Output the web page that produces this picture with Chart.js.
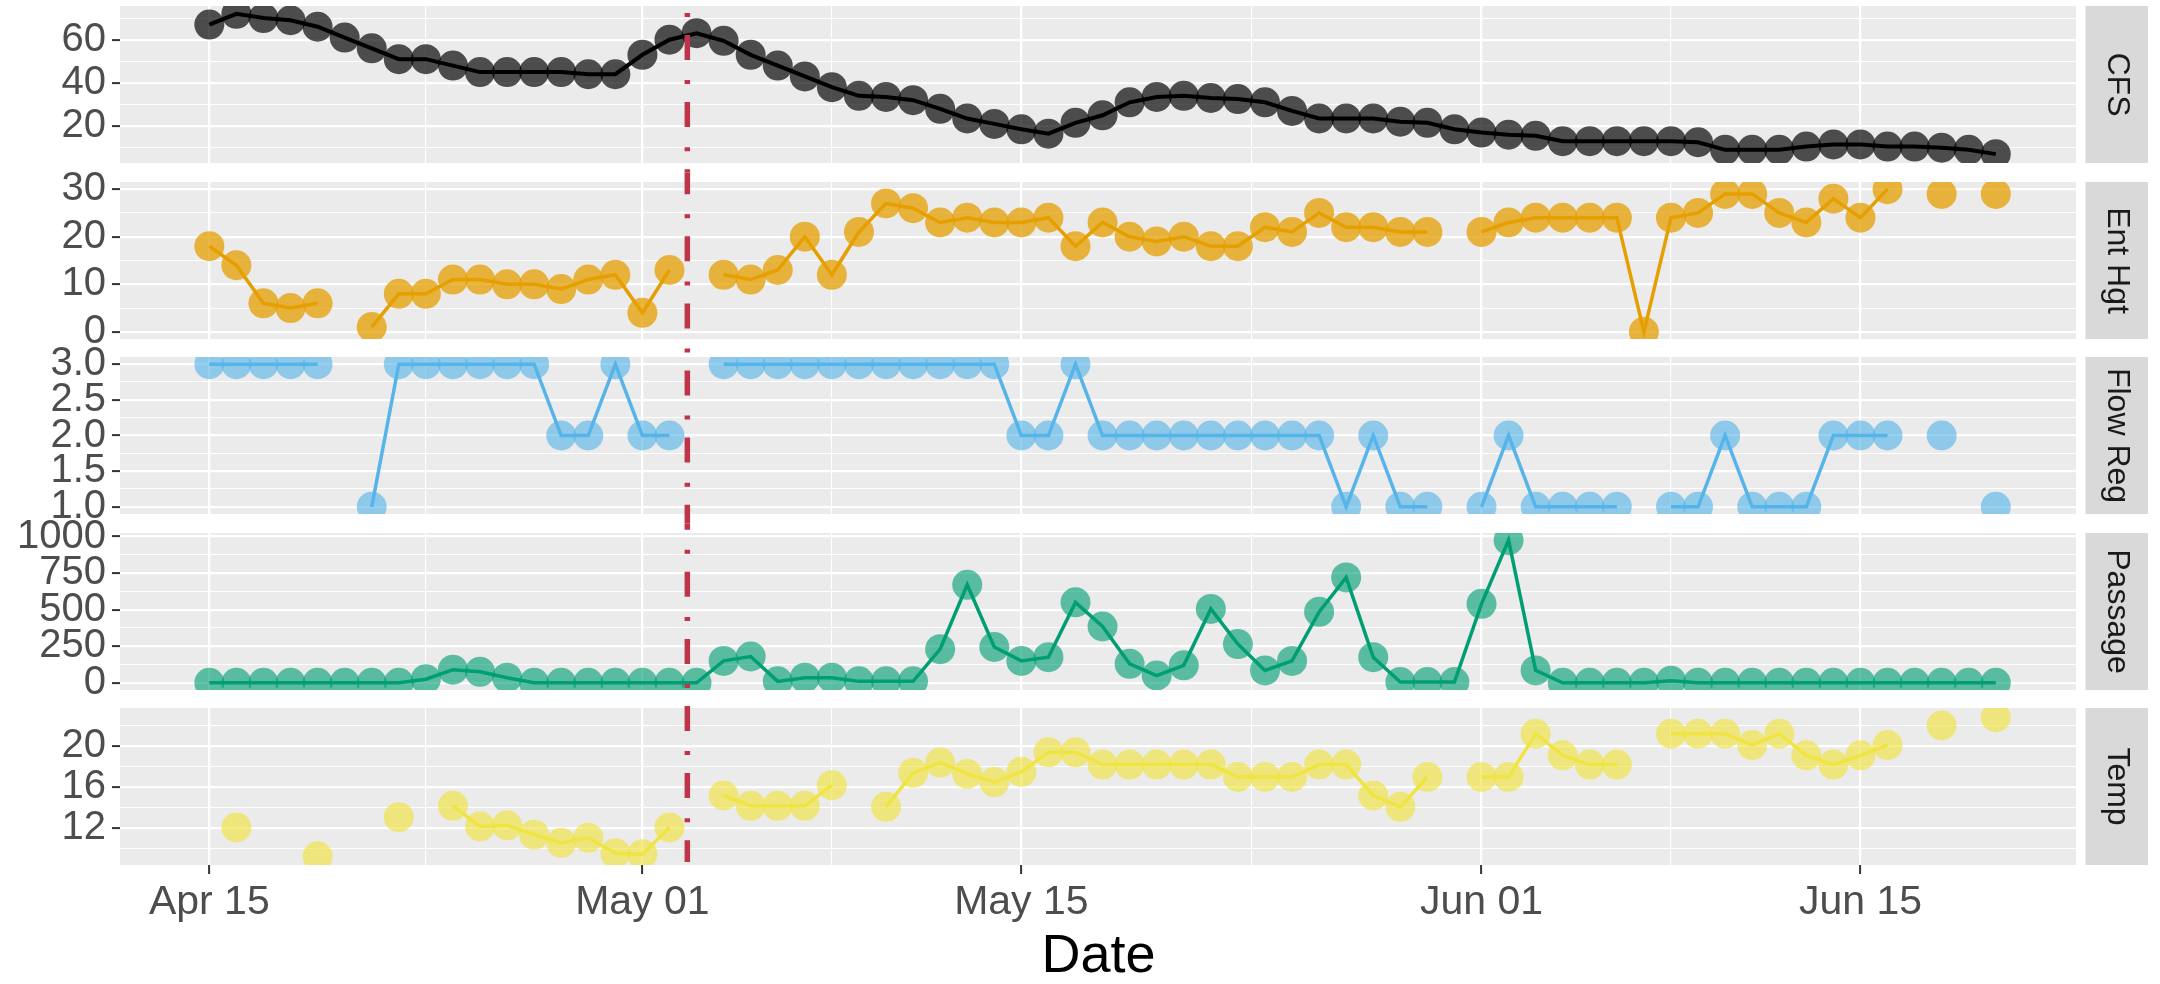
<!DOCTYPE html>
<html lang="en">
<head>
<meta charset="utf-8">
<title>Flow, entrance height, regulation, passage and temperature</title>
<script src="https://cdn.jsdelivr.net/npm/chart.js@4.4.1/dist/chart.umd.min.js"></script>
<style>
  html, body { margin: 0; padding: 0; background: #ffffff; }
  #wrap { position: relative; width: 2160px; height: 984px; overflow: hidden; background: #ffffff; }
  #wrap canvas { position: absolute; left: 0; }
</style>
</head>
<body>
<div id="wrap"></div>
<script>
// ---- Daily record, day 0 = Apr 15, last day = Jun 20 -------------------
const dayIndex = [
   0,  1,  2,  3,  4,  5,  6,  7,  8,  9, 10, 11, 12, 13, 14, 15, 16, 17, 18, 19,
  20, 21, 22, 23, 24, 25, 26, 27, 28, 29, 30, 31, 32, 33, 34, 35, 36, 37, 38, 39,
  40, 41, 42, 43, 44, 45, 46, 47, 48, 49, 50, 51, 52, 53, 54, 55, 56, 57, 58, 59,
  60, 61, 62, 63, 64, 65, 66
];

const cfs = [
  67, 72, 70, 69, 66, 61, 56, 51, 51, 48, 45, 45, 45, 45, 44, 44, 53, 60, 63, 59.5,
  53, 48, 43, 38, 34, 33.5, 32, 28, 23.5, 21, 18.5, 16.5, 21.5, 25, 31, 33.5, 34, 33, 32.5, 31,
  27, 23.5, 23.5, 23.5, 22, 21.5, 18.5, 17, 16, 15.5, 13, 13, 13, 13, 13, 12.5, 9, 9, 9, 10.5,
  11.5, 11.5, 10.5, 10.5, 10, 9, 7
];

const entHgt = [
  18, 14, 6, 5, 6, null, 1, 8, 8, 11, 11, 10, 10, 9, 11, 12, 4, 13, null, 12,
  11, 13, 20, 12, 21, 27, 26, 23, 24, 23, 23, 24, 18, 23, 20, 19, 20, 18, 18, 22,
  21, 25, 22, 22, 21, 21, null, 21, 23, 24, 24, 24, 24, 0, 24, 25, 29, 29, 25, 23,
  28, 24, 30, null, 29, null, 29
];

const flowReg = [
  3, 3, 3, 3, 3, null, 1, 3, 3, 3, 3, 3, 3, 2, 2, 3, 2, 2, null, 3,
  3, 3, 3, 3, 3, 3, 3, 3, 3, 3, 2, 2, 3, 2, 2, 2, 2, 2, 2, 2,
  2, 2, 1, 2, 1, 1, null, 1, 2, 1, 1, 1, 1, null, 1, 1, 2, 1, 1, 1,
  2, 2, 2, null, 2, null, 1
];

const passage = [
  0, 0, 0, 0, 0, 0, 0, 0, 25, 90, 75, 35, 0, 0, 0, 0, 0, 0, 0, 150,
  180, 10, 35, 35, 10, 10, 10, 230, 670, 245, 150, 175, 550, 385, 130, 50, 120, 505, 265, 85,
  150, 485, 720, 175, 5, 5, 5, 540, 975, 85, 0, 0, 0, 0, 15, 0, 0, 0, 0, 0,
  0, 0, 0, 0, 0, 0, 0
];

const temp = [
  null, 12.1, null, null, 9.3, null, null, 13.1, null, 14.2, 12.2, 12.3, 11.4, 10.6, 11.1, 9.6, 9.5, 12.1, null, 15.2,
  14.2, 14.2, 14.2, 16.2, null, 14.1, 17.4, 18.4, 17.3, 16.5, 17.5, 19.4, 19.4, 18.2, 18.2, 18.2, 18.2, 18.2, 17.0, 17.0,
  17.0, 18.2, 18.2, 15.2, 14.1, 17.0, null, 17.0, 17.0, 21.2, 19.1, 18.2, 18.2, null, 21.2, 21.2, 21.2, 20.1, 21.2, 19.1,
  18.2, 19.1, 20.1, null, 22.0, null, 22.8
];

// ---- Axis breaks -------------------------------------------------------
const dateTickDays   = [0, 16, 30, 47, 61];
const dateTickLabels = ['Apr 15', 'May 01', 'May 15', 'Jun 01', 'Jun 15'];
const dateMinorDays  = [8, 23, 38.5, 54, 69];
const dateLimits     = [-3.3, 69.0];

// Moment the regulation change was made (May 02, afternoon)
const markerDay = 17.66;

const cfsTicks        = [20, 40, 60];
const cfsTickLabels   = ['20', '40', '60'];
const cfsMinor        = [10, 30, 50, 70];

const entTicks        = [0, 10, 20, 30];
const entTickLabels   = ['0', '10', '20', '30'];
const entMinor        = [5, 15, 25];

const flowTicks       = [1, 1.5, 2, 2.5, 3];
const flowTickLabels  = ['1.0', '1.5', '2.0', '2.5', '3.0'];
const flowMinor       = [1.25, 1.75, 2.25, 2.75];

const passTicks       = [0, 250, 500, 750, 1000];
const passTickLabels  = ['0', '250', '500', '750', '1000'];
const passMinor       = [125, 375, 625, 875];

const tempTicks       = [12, 16, 20];
const tempTickLabels  = ['12', '16', '20'];
const tempMinor       = [10, 14, 18, 22];

// ---- Look --------------------------------------------------------------
const FONT = '"Liberation Sans", Arial, Helvetica, sans-serif';
const PANEL_TOPS = [6, 182, 357, 533, 708];
const PANEL_H = 157;
const MARGIN = 40;
const PLOT_LEFT = 120;
const PLOT_RIGHT_PAD = 83;
const PAGE_H = 984;
const MARKER_TOP = 13;
const MARKER_BOTTOM = 862;

const panels = [
  { label: 'CFS',      values: cfs,     line: '#000000', lineWidth: 4,   fill: 'rgba(0,0,0,0.68)',
    limits: [2.9, 75.6],  major: cfsTicks,  labels: cfsTickLabels,  minor: cfsMinor },
  { label: 'Ent Hgt',  values: entHgt,  line: '#E69F00', lineWidth: 3.5, fill: 'rgba(230,159,0,0.75)',
    limits: [-1.5, 31.5], major: entTicks,  labels: entTickLabels,  minor: entMinor },
  { label: 'Flow Reg', values: flowReg, line: '#56B4E9', lineWidth: 3.5, fill: 'rgba(86,180,233,0.62)',
    limits: [0.9, 3.1],   major: flowTicks, labels: flowTickLabels, minor: flowMinor },
  { label: 'Passage',  values: passage, line: '#009E73', lineWidth: 3.5, fill: 'rgba(0,158,115,0.62)',
    limits: [-49, 1024],  major: passTicks, labels: passTickLabels, minor: passMinor },
  { label: 'Temp',     values: temp,    line: '#F0E442', lineWidth: 3.5, fill: 'rgba(240,228,66,0.65)',
    limits: [8.45, 23.7], major: tempTicks, labels: tempTickLabels, minor: tempMinor }
];

function tickList(major, minor) {
  return major.map(v => ({ value: v, isMajor: true }))
    .concat(minor.map(v => ({ value: v, isMajor: false })))
    .sort((a, b) => a.value - b.value);
}

function labelFor(major, labels) {
  return (value) => {
    const k = major.indexOf(value);
    return k >= 0 ? labels[k] : '';
  };
}

const gridWidth = (ctx) => (ctx.tick && ctx.tick.isMajor ? 2.2 : 1.1);
const tickMarkColor = (ctx) => (ctx.tick && ctx.tick.isMajor ? '#333333' : 'rgba(0,0,0,0)');

// Grey panel, facet strip on the right and the dot-dash marker line
const panelDecor = {
  id: 'panelDecor',
  beforeDraw(chart) {
    const { ctx, chartArea: a } = chart;
    ctx.save();
    ctx.fillStyle = '#EBEBEB';
    ctx.fillRect(a.left, a.top, a.right - a.left, a.bottom - a.top);
    ctx.restore();
  },
  afterDatasetsDraw(chart, args, o) {
    const ctx = chart.ctx;
    const x = chart.scales.x.getPixelForValue(markerDay);
    ctx.save();
    ctx.strokeStyle = '#BE3448';
    ctx.lineWidth = 5.5;
    ctx.lineCap = 'butt';
    ctx.setLineDash([4, 18, 25, 20.1]);
    ctx.lineDashOffset = o.segFrom - MARKER_TOP;
    ctx.beginPath();
    ctx.moveTo(x, o.segFrom - o.canvasTop);
    ctx.lineTo(x, o.segTo - o.canvasTop);
    ctx.stroke();
    ctx.restore();
  },
  afterDraw(chart, args, o) {
    const { ctx, chartArea: a } = chart;
    const sx = a.right + 8.5, sw = 62.5;
    ctx.save();
    ctx.fillStyle = '#D9D9D9';
    ctx.fillRect(sx, a.top, sw, a.bottom - a.top);
    ctx.translate(sx + sw / 2, (a.top + a.bottom) / 2);
    ctx.rotate(Math.PI / 2);
    ctx.fillStyle = '#1A1A1A';
    ctx.font = '32px ' + FONT;
    ctx.textAlign = 'center';
    ctx.textBaseline = 'middle';
    ctx.fillText(o.label, 0, 0);
    ctx.restore();
  }
};

const wrap = document.getElementById('wrap');

panels.forEach((p, i) => {
  const last = i === panels.length - 1;
  const canvasTop = PANEL_TOPS[i] - MARGIN;
  const canvasH = last ? PAGE_H - canvasTop : PANEL_H + 2 * MARGIN;
  const xAxisH = last ? canvasH - MARGIN - PANEL_H : 0;

  // marker segment handled by this panel (page coordinates)
  const segFrom = i === 0 ? MARKER_TOP
    : (PANEL_TOPS[i - 1] + PANEL_H + PANEL_TOPS[i]) / 2;
  const segTo = last ? MARKER_BOTTOM
    : (PANEL_TOPS[i] + PANEL_H + PANEL_TOPS[i + 1]) / 2;

  const cv = document.createElement('canvas');
  cv.width = 2160;
  cv.height = canvasH;
  cv.style.top = canvasTop + 'px';
  cv.style.width = '2160px';
  cv.style.height = canvasH + 'px';
  wrap.appendChild(cv);

  new Chart(cv.getContext('2d'), {
    type: 'line',
    data: {
      datasets: [{
        data: p.values.map((v, k) => ({ x: dayIndex[k], y: v })),
        borderColor: p.line,
        borderWidth: p.lineWidth,
        backgroundColor: p.fill,
        pointBackgroundColor: p.fill,
        pointBorderWidth: 0,
        pointRadius: 15,
        pointHoverRadius: 15,
        spanGaps: false,
        tension: 0,
        clip: 0
      }]
    },
    plugins: [panelDecor],
    options: {
      responsive: false,
      animation: false,
      devicePixelRatio: 1,
      events: [],
      layout: { padding: { top: MARGIN, bottom: last ? 0 : MARGIN, left: 0, right: PLOT_RIGHT_PAD } },
      plugins: {
        legend: { display: false },
        tooltip: { enabled: false },
        panelDecor: { label: p.label, canvasTop, segFrom, segTo }
      },
      scales: {
        x: {
          type: 'linear',
          min: dateLimits[0],
          max: dateLimits[1],
          afterBuildTicks: (s) => { s.ticks = tickList(dateTickDays, dateMinorDays); },
          afterFit: (s) => { s.height = xAxisH; },
          border: { display: false },
          grid: {
            color: '#FFFFFF',
            lineWidth: gridWidth,
            drawTicks: last,
            tickLength: 9,
            tickWidth: 2,
            tickColor: tickMarkColor
          },
          ticks: {
            display: last,
            autoSkip: false,
            maxRotation: 0,
            minRotation: 0,
            padding: 8,
            color: '#4D4D4D',
            font: { family: FONT, size: 41, lineHeight: 1.0 },
            callback: labelFor(dateTickDays, dateTickLabels)
          },
          title: {
            display: last,
            text: 'Date',
            color: '#000000',
            padding: 0,
            font: { family: FONT, size: 54, lineHeight: 1.0 }
          }
        },
        y: {
          type: 'linear',
          min: p.limits[0],
          max: p.limits[1],
          afterBuildTicks: (s) => { s.ticks = tickList(p.major, p.minor); },
          afterFit: (s) => { s.width = PLOT_LEFT; },
          border: { display: false },
          grid: {
            color: '#FFFFFF',
            lineWidth: gridWidth,
            tickLength: 8,
            tickWidth: 2,
            tickColor: tickMarkColor
          },
          ticks: {
            autoSkip: false,
            padding: 6,
            color: '#4D4D4D',
            font: { family: FONT, size: 40, lineHeight: 1.0 },
            callback: labelFor(p.major, p.labels)
          }
        }
      }
    }
  });
});
</script>
</body>
</html>
